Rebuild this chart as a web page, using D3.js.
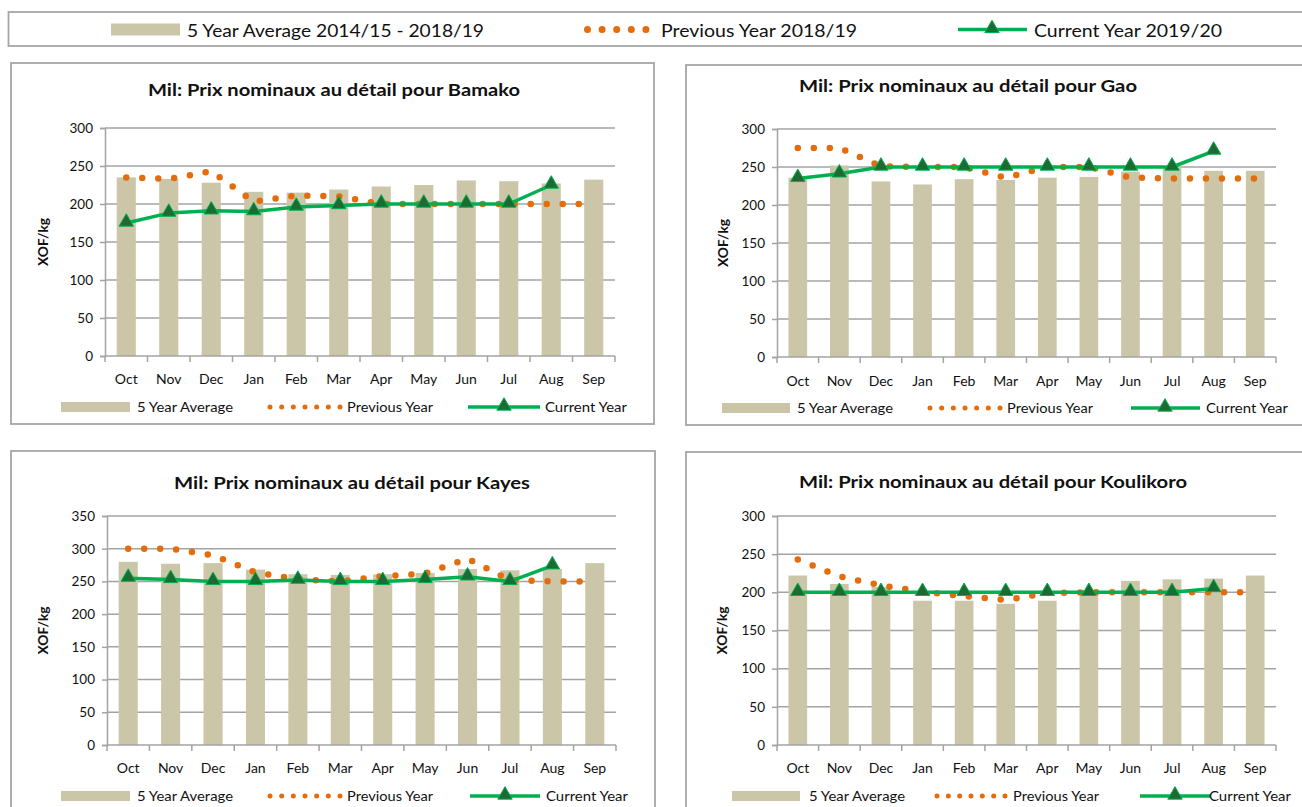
<!DOCTYPE html>
<html>
<head>
<meta charset="utf-8">
<script src="https://cdn.jsdelivr.net/npm/d3@7"></script>
<style>
  html, body { margin: 0; padding: 0; background: #ffffff; }
  svg { display: block; font-family: Lato, "Open Sans", "DejaVu Sans", sans-serif; }
</style>
</head>
<body>
<svg id="chart" width="1302" height="807"></svg>
<script>
// ---------------- DATA ----------------
const months = ["Oct","Nov","Dec","Jan","Feb","Mar","Apr","May","Jun","Jul","Aug","Sep"];

const bamakoAvg  = [235,233,228,216,215,219,223,225,231,230,227,232];
const bamakoPrev = [235,233,243,203,211,210,200,200,200,200,200,200];
const bamakoCur  = [175,188,191,190,196,198,200,200,200,200,225];

const gaoAvg  = [236,252,231,227,234,233,236,237,244,250,245,245];
const gaoPrev = [275,275,251,250,250,236,250,250,236,235,235,235];
const gaoCur  = [235,241,250,250,250,250,250,250,250,250,271];

const kayesAvg  = [280,277,278,268,261,260,261,263,269,267,269,278];
const kayesPrev = [300,300,290,264,253,250,258,262,285,252,250,250];
const kayesCur  = [255,253,250,250,252,250,250,253,257,250,274];

const koulikoroAvg  = [222,211,207,189,189,185,189,203,215,217,218,222];
const koulikoroPrev = [243,221,209,201,195,190,199,200,200,200,200,200];
const koulikoroCur  = [200,200,200,200,200,200,200,200,200,200,205];

const ticksBamako = [0,50,100,150,200,250,300];
const ticksGao = [0,50,100,150,200,250,300];
const ticksKayes = [0,50,100,150,200,250,300,350];
const ticksKoulikoro = [0,50,100,150,200,250,300];

const legendMain = ["5 Year Average 2014/15 - 2018/19", "Previous Year 2018/19", "Current Year 2019/20"];
const legendPanel = ["5 Year Average", "Previous Year", "Current Year"];
const yLabel = "XOF/kg";

// ---------------- STYLE ----------------
const C = {
  bar: "#ccc6a9",
  prev: "#e46c0a",
  cur: "#00b050",
  tri: "#1d6a33",
  grid: "#a3a3a3",
  border: "#a6a6a6",
  text: "#111111"
};

const svg = d3.select("#chart");

// top legend box
svg.append("rect").attr("x", 8.5).attr("y", 12).attr("width", 1320).attr("height", 34)
  .attr("fill", "#fff").attr("stroke", C.border).attr("stroke-width", 1.8);

function triangle(g, x, y, s) {
  g.append("path")
    .attr("d", d3.symbol().type(d3.symbolTriangle).size(s)())
    .attr("transform", `translate(${x},${y})`)
    .attr("fill", C.tri).attr("stroke", C.cur).attr("stroke-width", 1);
}

function addText(g, x, y, str, size, len, opts = {}) {
  const t = g.append("text").attr("x", x).attr("y", y)
    .attr("font-size", size).attr("fill", C.text)
    .attr("dominant-baseline", "central")
    .text(str);
  if (opts.anchor) t.attr("text-anchor", opts.anchor);
  if (opts.bold) t.attr("font-weight", "bold");
  if (len) t.attr("textLength", len).attr("lengthAdjust", "spacingAndGlyphs");
  return t;
}

// main legend
{
  const g = svg.append("g");
  const ly = 29.5;
  g.append("rect").attr("x", 111).attr("y", ly - 6).attr("width", 69).attr("height", 12).attr("fill", C.bar);
  addText(g, 187, ly, legendMain[0], 18, 297);
  g.append("line").attr("x1", 587.5).attr("x2", 646.5).attr("y1", ly).attr("y2", ly)
    .attr("stroke", C.prev).attr("stroke-width", 7).attr("stroke-linecap", "round")
    .attr("stroke-dasharray", "0 14.6");
  addText(g, 661, ly, legendMain[1], 18, 196);
  g.append("line").attr("x1", 958).attr("x2", 1027).attr("y1", ly).attr("y2", ly)
    .attr("stroke", C.cur).attr("stroke-width", 3.5);
  triangle(g, 992, ly - 1, 90);
  addText(g, 1034, ly, legendMain[2], 18, 188);
}

// ---------------- PANELS ----------------
function drawPanel(p) {
  const g = svg.append("g");
  g.append("rect").attr("x", p.box[0]).attr("y", p.box[1])
    .attr("width", p.box[2] - p.box[0]).attr("height", p.box[3] - p.box[1])
    .attr("fill", "#fff").attr("stroke", C.border).attr("stroke-width", 1.8);

  const x = d3.scaleBand().domain(months).range([p.left, p.right]).paddingInner(0.55).paddingOuter(0.275);
  const xc = d => x(d) + x.bandwidth() / 2;
  const y = d3.scaleLinear().domain([0, p.ymax]).range([p.bottom, p.top]);

  // gridlines
  g.append("g").selectAll("line").data(p.ticks.filter(t => t > 0)).join("line")
    .attr("x1", p.left).attr("x2", p.right)
    .attr("y1", d => y(d)).attr("y2", d => y(d))
    .attr("stroke", C.grid).attr("stroke-width", 1.5);

  // y axis
  const ya = g.append("g").attr("transform", `translate(${p.left},0)`)
    .call(d3.axisLeft(y).tickValues(p.ticks).tickSize(5).tickPadding(7).tickFormat(d3.format("d")));
  ya.select(".domain").attr("stroke", C.grid).attr("stroke-width", 1.5);
  ya.selectAll(".tick line").attr("stroke", C.grid).attr("stroke-width", 1.5);
  ya.selectAll(".tick text").attr("font-size", 13.5).attr("fill", C.text).attr("font-family", "Lato, sans-serif");

  // bars
  g.append("g").selectAll("rect").data(p.avg).join("rect")
    .attr("x", (d, i) => x(months[i])).attr("width", x.bandwidth())
    .attr("y", d => y(d)).attr("height", d => y(0) - y(d))
    .attr("fill", C.bar);

  // x axis line + boundary ticks
  g.append("line").attr("x1", p.left).attr("x2", p.right).attr("y1", p.bottom).attr("y2", p.bottom)
    .attr("stroke", C.grid).attr("stroke-width", 1.5);
  const bounds = months.map(m => x(m) - x.step() * x.paddingInner() / 2).concat([p.right]);
  g.append("g").selectAll("line").data(bounds).join("line")
    .attr("x1", d => d).attr("x2", d => d).attr("y1", p.bottom).attr("y2", p.bottom + 6)
    .attr("stroke", C.grid).attr("stroke-width", 1.5);
  g.append("g").selectAll("text").data(months).join("text")
    .attr("x", d => xc(d)).attr("y", p.xlab)
    .attr("text-anchor", "middle").attr("dominant-baseline", "central")
    .attr("font-size", 14).attr("fill", C.text).text(d => d);

  // previous year dotted line
  const line = d3.line().x((d, i) => xc(months[i])).y(d => y(d));
  g.append("path").attr("d", line(p.prev)).attr("fill", "none")
    .attr("stroke", C.prev).attr("stroke-width", 6.5).attr("stroke-linecap", "round")
    .attr("stroke-dasharray", "0 16");

  // current year line
  g.append("path").attr("d", line(p.cur)).attr("fill", "none")
    .attr("stroke", C.cur).attr("stroke-width", 3.5).attr("stroke-linejoin", "round");
  p.cur.forEach((d, i) => triangle(g, xc(months[i]), y(d) - 1, 90));

  // title
  addText(g, p.titleX, p.titleY, p.title, 17, p.titleLen, { anchor: "middle", bold: true });

  // y label
  g.append("text").attr("transform", `translate(${p.ylabX},${(p.top + p.bottom) / 2}) rotate(-90)`)
    .attr("text-anchor", "middle").attr("dominant-baseline", "central")
    .attr("font-size", 13.5).attr("font-weight", "bold").attr("fill", C.text)
    .attr("textLength", 48).attr("lengthAdjust", "spacingAndGlyphs").text(yLabel);

  // panel legend
  const L = p.leg, ly = p.legY;
  g.append("rect").attr("x", L[0]).attr("y", ly - 5).attr("width", L[1] - L[0]).attr("height", 10).attr("fill", C.bar);
  addText(g, L[2], ly, legendPanel[0], 13.5, 96);
  g.append("line").attr("x1", L[3]).attr("x2", L[4] + 0.5).attr("y1", ly).attr("y2", ly)
    .attr("stroke", C.prev).attr("stroke-width", 5).attr("stroke-linecap", "round")
    .attr("stroke-dasharray", `0 ${(L[4] - L[3]) / 6}`);
  addText(g, L[5], ly, legendPanel[1], 13.5, 86);
  g.append("line").attr("x1", L[6]).attr("x2", L[7]).attr("y1", ly).attr("y2", ly)
    .attr("stroke", C.cur).attr("stroke-width", 3.5);
  triangle(g, L[8], ly - 1, 90);
  addText(g, L[9], ly, legendPanel[2], 13.5, 82);
}

drawPanel({
  title: "Mil: Prix nominaux au détail pour Bamako", titleX: 334, titleY: 89, titleLen: 372,
  box: [11, 63, 654, 424], left: 105, right: 615, top: 128, bottom: 356, ymax: 300, ticks: ticksBamako,
  avg: bamakoAvg, prev: bamakoPrev, cur: bamakoCur, xlab: 378, ylabX: 43,
  legY: 407, leg: [61, 130, 137, 270, 340, 347, 468, 540, 504, 545]
});
drawPanel({
  title: "Mil: Prix nominaux au détail pour Gao", titleX: 968, titleY: 85, titleLen: 338,
  box: [686, 65, 1330, 425], left: 777, right: 1276, top: 129, bottom: 357, ymax: 300, ticks: ticksGao,
  avg: gaoAvg, prev: gaoPrev, cur: gaoCur, xlab: 380, ylabX: 723,
  legY: 408, leg: [722, 790, 797, 930, 1000, 1007, 1131, 1200, 1165, 1206]
});
drawPanel({
  title: "Mil: Prix nominaux au détail pour Kayes", titleX: 352, titleY: 482, titleLen: 356,
  box: [11, 451, 655, 830], left: 107, right: 616, top: 516, bottom: 745, ymax: 350, ticks: ticksKayes,
  avg: kayesAvg, prev: kayesPrev, cur: kayesCur, xlab: 767, ylabX: 43,
  legY: 796, leg: [61, 130, 137, 270, 340, 347, 470, 540, 505, 546]
});
drawPanel({
  title: "Mil: Prix nominaux au détail pour Koulikoro", titleX: 993, titleY: 481, titleLen: 388,
  box: [686, 452, 1330, 830], left: 777, right: 1276, top: 516, bottom: 745, ymax: 300, ticks: ticksKoulikoro,
  avg: koulikoroAvg, prev: koulikoroPrev, cur: koulikoroCur, xlab: 767, ylabX: 722,
  legY: 796, leg: [732, 800, 809, 937, 1005, 1013, 1140, 1210, 1175, 1209]
});
</script>
</body>
</html>
